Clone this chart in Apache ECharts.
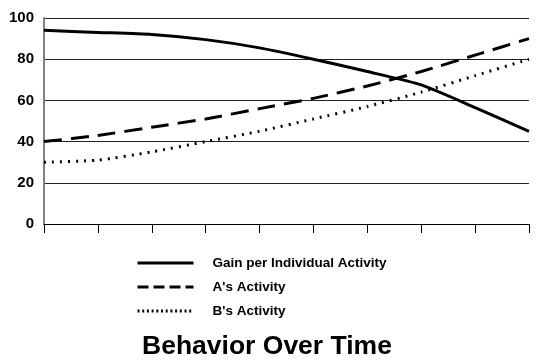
<!DOCTYPE html>
<html>
<head>
<meta charset="utf-8">
<script src="https://cdn.jsdelivr.net/npm/echarts@6/dist/echarts.min.js"></script>
<style>
html,body{margin:0;padding:0;background:#fff;}
#chart{width:550px;height:363px;}
</style>
</head>
<body>
<div id="chart"></div>
<script>
const categories = ['1','2','3','4','5','6','7','8','9','10'];
const gainValues = [94, 93, 92, 89.5, 85.5, 80, 74, 67.5, 56.5, 45];
const aValues = [40, 43, 47, 51, 56, 61, 67, 74, 82, 90];
const bValues = [30, 31, 35, 40, 45, 51, 57, 64, 72, 80];
const yTicks = [0, 20, 40, 60, 80, 100];
const seriesNames = ['Gain per Individual Activity', "A's Activity", "B's Activity"];
const chartTitle = 'Behavior Over Time';

const chart = echarts.init(document.getElementById('chart'));
const font = 'Liberation Sans, Arial, sans-serif';
chart.setOption({
  animation: false,
  backgroundColor: '#fff',
  title: {
    text: chartTitle,
    left: 137,
    top: 328,
    textStyle: {fontFamily: font, fontSize: 26.5, fontWeight: 'bold', color: '#000'}
  },
  legend: {
    orient: 'vertical',
    left: 131,
    top: 251,
    itemWidth: 56,
    itemHeight: 14,
    itemGap: 10,
    itemStyle: {opacity: 0},
    data: [
      {name: seriesNames[0], lineStyle: {width: 3, type: 'solid', color: '#000'}},
      {name: seriesNames[1], lineStyle: {width: 3, type: [11, 5], color: '#000'}},
      {name: seriesNames[2], lineStyle: {width: 3, type: [2, 2.7], color: '#000'}}
    ],
    textStyle: {fontFamily: font, fontSize: 13.5, fontWeight: 'bold', color: '#000', padding: [0, 0, 0, 14]}
  },
  grid: {left: 44, right: 21, top: 18, bottom: 139},
  xAxis: {
    type: 'category',
    data: categories,
    boundaryGap: false,
    axisLine: {lineStyle: {color: '#000', width: 1}},
    axisTick: {show: true, length: 9, inside: false, alignWithLabel: true, lineStyle: {color: '#000', width: 1}},
    axisLabel: {show: false}
  },
  yAxis: {
    type: 'value',
    min: yTicks[0],
    max: yTicks[yTicks.length - 1],
    interval: 20,
    axisLine: {show: true, lineStyle: {color: '#808080', width: 2}},
    axisTick: {show: false},
    axisLabel: {fontFamily: font, fontSize: 15, fontWeight: 'bold', color: '#000', margin: 10},
    splitLine: {lineStyle: {color: '#222', width: 1}}
  },
  series: [
    {name: seriesNames[0], type: 'line', data: gainValues, symbol: 'none', smooth: 0.2,
     lineStyle: {color: '#000', width: 3, type: 'solid'}, itemStyle: {color: '#000'}},
    {name: seriesNames[1], type: 'line', data: aValues, symbol: 'none', smooth: 0.2,
     lineStyle: {color: '#000', width: 3, type: [18, 9]}, itemStyle: {color: '#000'}},
    {name: seriesNames[2], type: 'line', data: bValues, symbol: 'none', smooth: 0.2,
     lineStyle: {color: '#000', width: 3, type: [2, 6]}, itemStyle: {color: '#000'}}
  ]
});
</script>
</body>
</html>
